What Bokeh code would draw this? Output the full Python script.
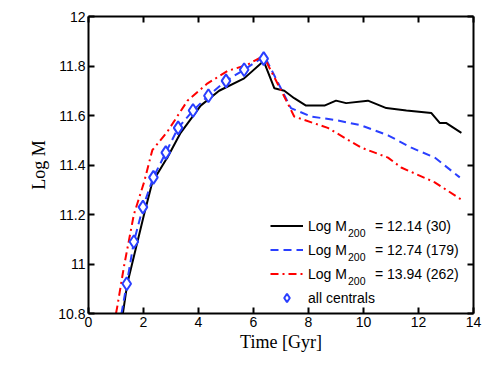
from bokeh.plotting import figure
from bokeh.models import (LinearAxis, FixedTicker, CustomJSTickFormatter, Range1d,
                          Legend, LegendItem, Label)
from bokeh.embed import file_html
from bokeh.resources import INLINE

# --- data ---
t_lo = [1.25, 1.29, 1.41, 1.65, 2.02, 2.32, 2.81, 2.87, 3.35, 4.08, 4.75, 5.66, 6.37,
        6.76, 7.12, 7.48, 7.91, 8.58, 9.0, 9.37, 10.16, 10.83, 11.56, 12.47, 12.77, 13.0, 13.56]
m_lo = [10.80, 10.83, 10.92, 11.03, 11.20, 11.33, 11.42, 11.43, 11.53, 11.64, 11.70, 11.75, 11.82,
        11.71, 11.70, 11.67, 11.64, 11.64, 11.66, 11.65, 11.66, 11.63, 11.62, 11.61, 11.57, 11.57, 11.53]

t_mid = [1.2, 1.39, 1.65, 1.98, 2.36, 2.81, 3.26, 3.80, 4.36, 5.0, 5.66, 6.4,
         7.36, 8.09, 9.06, 9.92, 10.89, 11.74, 12.59, 13.5]
m_mid = [10.80, 10.92, 11.09, 11.23, 11.35, 11.45, 11.55, 11.62, 11.68, 11.74, 11.785, 11.84,
         11.63, 11.596, 11.58, 11.56, 11.52, 11.47, 11.43, 11.35]

t_hi = [1.0, 1.05, 1.29, 1.65, 2.02, 2.32, 2.87, 3.6, 4.33, 5.06, 5.78, 6.35,
        6.5, 7.24, 7.48, 8.7, 9.92, 10.89, 11.37, 12.59, 13.56]
m_hi = [10.80, 10.83, 10.99, 11.20, 11.33, 11.46, 11.535, 11.66, 11.73, 11.78, 11.805, 11.84,
        11.81, 11.65, 11.596, 11.55, 11.47, 11.43, 11.39, 11.33, 11.26]

t_all = [1.39, 1.65, 1.98, 2.36, 2.81, 3.26, 3.80, 4.36, 5.0, 5.66, 6.37]
m_all = [10.92, 11.09, 11.23, 11.35, 11.45, 11.55, 11.62, 11.68, 11.74, 11.785, 11.83]

log_m200 = ["12.14", "12.74", "13.94"]
n_halos = [30, 179, 262]
label_prefix = "Log M"
label_sub = "200"
label_all = "all centrals"
x_ticks = [0, 2, 4, 6, 8, 10, 12, 14]
y_ticks = [10.8, 11.0, 11.2, 11.4, 11.6, 11.8, 12.0]

BLUE = "#2a3fff"
RED = "#ff0000"
SANS = "Liberation Sans"
SERIF = "Liberation Serif"

p = figure(width=491, height=369, output_backend="svg", toolbar_location=None,
           x_range=Range1d(0, 14), y_range=Range1d(10.8, 12.0),
           frame_width=385, frame_height=297,
           min_border_left=88, min_border_right=18, min_border_top=16, min_border_bottom=56,
           x_axis_location=None, y_axis_location=None)
p.grid.visible = False
p.outline_line_color = None
p.background_fill_color = "white"

fmt = CustomJSTickFormatter(code="return String(Number(tick.toFixed(1)));")
blank = CustomJSTickFormatter(code="return '';")

def style(ax):
    ax.axis_line_width = 2
    ax.axis_line_color = "black"
    ax.major_tick_in = 6
    ax.major_tick_out = 0
    ax.major_tick_line_width = 2
    ax.major_tick_line_color = "black"
    ax.minor_tick_line_color = None
    ax.major_label_text_font = SANS
    ax.major_label_text_font_size = "14px"
    ax.major_label_text_color = "black"
    ax.major_label_standoff = 3

xb = LinearAxis(ticker=FixedTicker(ticks=x_ticks), formatter=fmt)
style(xb)
xb.axis_label = "Time [Gyr]"
xb.axis_label_text_font = SERIF
xb.axis_label_text_font_style = "normal"
xb.axis_label_text_font_size = "18px"
xb.axis_label_text_color = "black"
xb.axis_label_standoff = 2
p.add_layout(xb, "below")

yl = LinearAxis(ticker=FixedTicker(ticks=y_ticks), formatter=fmt)
style(yl)
yl.axis_label = "Log M"
yl.axis_label_text_font = SERIF
yl.axis_label_text_font_style = "normal"
yl.axis_label_text_font_size = "18px"
yl.axis_label_text_color = "black"
yl.axis_label_standoff = 6
p.add_layout(yl, "left")

xt = LinearAxis(ticker=FixedTicker(ticks=x_ticks), formatter=blank)
style(xt)
xt.major_label_standoff = 0
p.add_layout(xt, "above")
yr = LinearAxis(ticker=FixedTicker(ticks=y_ticks), formatter=blank)
style(yr)
yr.major_label_standoff = 0
p.add_layout(yr, "right")

r1 = p.line(t_lo, m_lo, line_color="black", line_width=2)
r2 = p.line(t_mid, m_mid, line_color=BLUE, line_width=2, line_dash="8 5")
r3 = p.line(t_hi, m_hi, line_color=RED, line_width=2, line_dash="8 4 2 4")
r4 = p.scatter(t_all, m_all, marker="diamond", size=13, line_color=BLUE,
               line_width=2, fill_color="white")

# legend: glyphs + "Log M" via Legend; subscript and value via screen-space labels
LEG_X, LEG_Y, ROW_H, SPACING = 182, 5, 21, 3
legend = Legend(items=[LegendItem(label=label_prefix, renderers=[r1]),
                       LegendItem(label=label_prefix, renderers=[r2]),
                       LegendItem(label=label_prefix, renderers=[r3]),
                       LegendItem(label=label_all, renderers=[r4])],
                location=(LEG_X, LEG_Y), border_line_color=None,
                background_fill_alpha=0, padding=0, margin=0, spacing=SPACING,
                glyph_width=33, glyph_height=ROW_H, label_height=ROW_H, label_standoff=5,
                label_text_font=SANS, label_text_font_size="14px",
                label_text_baseline="alphabetic", label_text_color="black")
p.add_layout(legend, "center")

text_x = LEG_X + 33 + 5
sub_x = text_x + 39.5
rest_x = sub_x + 27
for i, (mv, n) in enumerate(zip(log_m200, n_halos)):
    row_from_bottom = 3 - i
    cy = LEG_Y + ROW_H / 2 + row_from_bottom * (ROW_H + SPACING)
    p.add_layout(Label(x=sub_x, y=cy - 7, x_units="screen", y_units="screen", text=label_sub,
                       text_font=SANS, text_font_size="10.5px", text_color="black",
                       text_baseline="alphabetic"))
    p.add_layout(Label(x=rest_x, y=cy, x_units="screen", y_units="screen",
                       text=f"= {mv} ({n})",
                       text_font=SANS, text_font_size="14px", text_color="black",
                       text_baseline="alphabetic"))

open("out.html", "w").write(file_html(p, INLINE))
